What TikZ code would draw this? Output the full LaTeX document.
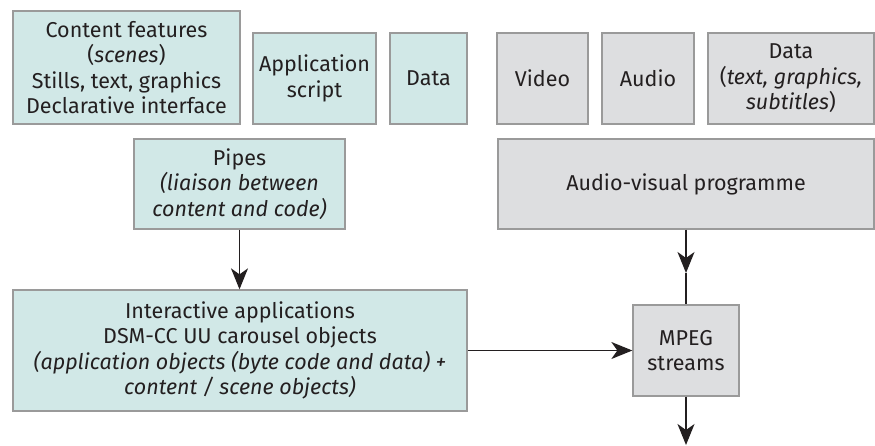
\documentclass[tikz,border=0pt]{standalone}
\usepackage{fontspec}
\setmainfont{Fira Sans}
\usetikzlibrary{arrows.meta}
\definecolor{tealfill}{HTML}{D1E8E7}
\definecolor{grayfill}{HTML}{DDDEE0}
\definecolor{edgegray}{HTML}{9A9A9A}
\definecolor{ink}{HTML}{231F20}
\begin{document}
\begin{tikzpicture}[x=1pt,y=-1pt,
  box/.style={draw=edgegray, line width=1.3pt, align=center, inner sep=0pt,
    font=\fontsize{21.5}{25.5}\selectfont, text=ink},
  tealbox/.style={box, fill=tealfill},
  graybox/.style={box, fill=grayfill},
  conn/.style={draw=ink, line width=1.3pt},
  arr/.style={conn, -{Stealth[length=21pt,width=17pt,inset=6pt]}}]
\useasboundingbox (0,0) rectangle (875,445);
\node[tealbox, minimum width=227pt, minimum height=113pt] (cf) at (126.5,67.5)
  {Content features\\(\textit{scenes})\\Stills, text, graphics\\Declarative interface};
\node[tealbox, minimum width=123pt, minimum height=91pt] (app) at (314.5,78.5)
  {Application\\script};
\node[tealbox, minimum width=77pt, minimum height=91pt] (dt) at (428.5,78.5) {Data};
\node[graybox, minimum width=91pt, minimum height=91pt] (video) at (542.5,78.5) {Video};
\node[graybox, minimum width=92pt, minimum height=91pt] (audio) at (648,78.5) {Audio};
\node[graybox, minimum width=166pt, minimum height=91pt] (dg) at (791,78.5)
  {Data\\(\textit{text, graphics,}\\\textit{subtitles})};
\node[tealbox, minimum width=211pt, minimum height=90pt] (pipes) at (239.5,184)
  {Pipes\\\textit{(liaison between}\\\textit{content and code)}};
\node[graybox, minimum width=376pt, minimum height=90pt] (av) at (686,184)
  {Audio-visual programme};
\node[tealbox, minimum width=454pt, minimum height=121pt] (ia) at (240,350.5)
  {Interactive applications\\DSM-CC UU carousel objects\\\textit{(application objects (byte code and data) +}\\\textit{content / scene objects)}};
\node[graybox, minimum width=106pt, minimum height=91pt] (mpeg) at (686,350.5)
  {MPEG\\streams};
\coordinate (mid) at (686,273);
\coordinate (out) at (686,445);
\draw[arr] (pipes.south) -- (pipes.south |- ia.north);
\draw[arr] (av.south) -- (mid);
\draw[conn] (mid) -- (mpeg.north);
\draw[arr] (ia.east |- mpeg.west) -- (mpeg.west);
\draw[arr] (mpeg.south) -- (out);
\end{tikzpicture}
\end{document}
